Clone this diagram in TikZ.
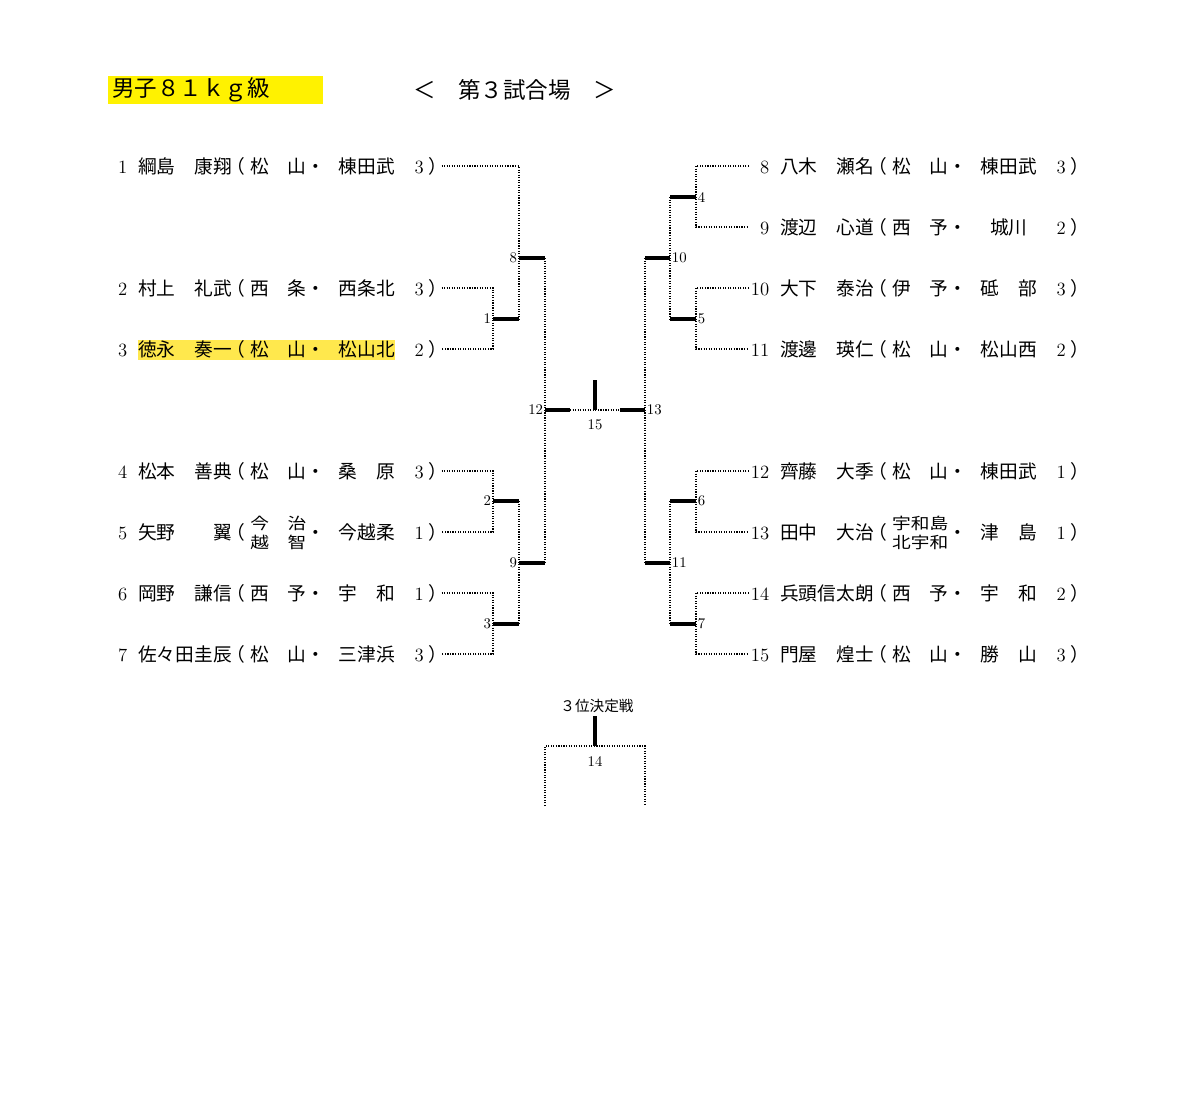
\documentclass[tikz,border=0pt]{standalone}
\usepackage{fontspec}
\usepackage{graphicx}
\newfontfamily\jp{Noto Sans CJK JP}
\definecolor{hlyellow}{HTML}{FFE84D}
\usepackage{tikz}
\usetikzlibrary{positioning}
\newlength{\px}
\setlength{\px}{0.025cm}
\NewDocumentCommand{\player}{mmmmm}{%
	\makebox[20\px][r]{#1}\hspace{11\px}%
	\makebox[94\px][l]{\jp #2}%
	\makebox[18\px][l]{\hspace{-6\px}\jp （}%
	\makebox[56\px]{\jp #3}%
	\makebox[19\px]{\jp ・}%
	\hspace{13\px}%
	\makebox[57\px]{\jp #4}%
	\hspace{15\px}%
	\makebox[18\px]{#5}%
	\makebox[13\px][l]{\jp ）}%
}
\NewDocumentCommand{\twoline}{mm}{%
	\smash{\scalebox{1}[0.85]{\begin{tabular}{@{}c@{}}#1\\#2\end{tabular}}}%
}
\tikzset{
	entry/.style={
			anchor=west,
			inner sep=0pt,
			font=\fontsize{13.3}{15}\selectfont
		},
	titlebox/.style={
			anchor=north west,
			fill=yellow,
			minimum width=5.375cm,
			minimum height=0.7cm,
			text width=5.175cm,
			align=left,
			inner xsep=0.1cm,
			inner ysep=0pt,
			font=\jp\fontsize{16}{18}\selectfont
		},
	headtext/.style={
			inner sep=0pt,
			font=\jp\fontsize{16}{18}\selectfont
		},
	smallhead/.style={
			inner sep=0pt,
			font=\jp\fontsize{10.4}{12}\selectfont
		},
	mno/.style={
			inner sep=1.2pt,
			font=\fontsize{10.5}{11}\selectfont
		},
	dotline/.style={
			densely dotted,
			line width=0.8pt
		},
	winline/.style={
			line width=3pt
		}
}
\begin{document}
\begin{tikzpicture}[x=0.025cm, y=-0.025cm]
\useasboundingbox (0,0) rectangle (1200,1092);

\node (title) at (108,76) [titlebox] {男子８１ｋｇ級};
\node (stage) at (413,90) [headtext, anchor=west] {＜　第３試合場　＞};

\fill[hlyellow] (138,340) rectangle (395,360);

\node (p1) at (107,166) [entry] {\player{1}{綱島　康翔}{松　山}{棟田武}{3}};
\node (p2) at (107,288) [entry] {\player{2}{村上　礼武}{西　条}{西条北}{3}};
\node (p3) at (107,349) [entry] {\player{3}{徳永　奏一}{松　山}{松山北}{2}};
\node (p4) at (107,471) [entry] {\player{4}{松本　善典}{松　山}{桑　原}{3}};
\node (p5) at (107,532) [entry] {\player{5}{矢野　　翼}{\twoline{\makebox[56\px][s]{今\hfill 治}}{\makebox[56\px][s]{越\hfill 智}}}{今越柔}{1}};
\node (p6) at (107,593) [entry] {\player{6}{岡野　謙信}{西　予}{宇　和}{1}};
\node (p7) at (107,654) [entry] {\player{7}{佐々田圭辰}{松　山}{三津浜}{3}};

\node (p8) at (749,166) [entry] {\player{8}{八木　瀬名}{松　山}{棟田武}{3}};
\node (p9) at (749,227) [entry] {\player{9}{渡辺　心道}{西　予}{城川}{2}};
\node (p10) at (749,288) [entry] {\player{10}{大下　泰治}{伊　予}{砥　部}{3}};
\node (p11) at (749,349) [entry] {\player{11}{渡邊　瑛仁}{松　山}{松山西}{2}};
\node (p12) at (749,471) [entry] {\player{12}{齊藤　大季}{松　山}{棟田武}{1}};
\node (p13) at (749,532) [entry] {\player{13}{田中　大治}{\twoline{宇和島}{北宇和}}{津　島}{1}};
\node (p14) at (749,593) [entry] {\player{14}{兵頭信太朗}{西　予}{宇　和}{2}};
\node (p15) at (749,654) [entry] {\player{15}{門屋　煌士}{松　山}{勝　山}{3}};

\coordinate (m1) at (493,319); \coordinate (w1) at (519,319);
\coordinate (m2) at (493,501); \coordinate (w2) at (519,501);
\coordinate (m3) at (493,624); \coordinate (w3) at (519,624);
\coordinate (m8) at (519,258); \coordinate (w8) at (545,258);
\coordinate (m9) at (519,563); \coordinate (w9) at (545,563);
\coordinate (m12) at (545,410); \coordinate (w12) at (570,410);
\coordinate (m4) at (696,197); \coordinate (w4) at (670,197);
\coordinate (m5) at (696,319); \coordinate (w5) at (670,319);
\coordinate (m6) at (696,501); \coordinate (w6) at (670,501);
\coordinate (m7) at (696,624); \coordinate (w7) at (670,624);
\coordinate (m10) at (670,258); \coordinate (w10) at (645,258);
\coordinate (m11) at (670,563); \coordinate (w11) at (645,563);
\coordinate (m13) at (645,410); \coordinate (w13) at (620,410);
\coordinate (m15) at (595,410); \coordinate (top15) at (595,380);

\draw[dotline] (p2.east) -| (m1) |- (p3.east);
\draw[dotline] (p4.east) -| (m2) |- (p5.east);
\draw[dotline] (p6.east) -| (m3) |- (p7.east);
\draw[dotline] (p1.east) -| (m8) -- (w1);
\draw[dotline] (w2) -- (m9) -- (w3);
\draw[dotline] (w8) -- (m12) -- (w9);
\draw[dotline] (p8.west) -| (m4) |- (p9.west);
\draw[dotline] (p10.west) -| (m5) |- (p11.west);
\draw[dotline] (p12.west) -| (m6) |- (p13.west);
\draw[dotline] (p14.west) -| (m7) |- (p15.west);
\draw[dotline] (w4) -- (m10) -- (w5);
\draw[dotline] (w6) -- (m11) -- (w7);
\draw[dotline] (w10) -- (m13) -- (w11);
\draw[dotline] (w12) -- (m15) -- (w13);

\draw[winline] (m1) -- (w1);
\draw[winline] (m2) -- (w2);
\draw[winline] (m3) -- (w3);
\draw[winline] (m8) -- (w8);
\draw[winline] (m9) -- (w9);
\draw[winline] (m12) -- (w12);
\draw[winline] (m4) -- (w4);
\draw[winline] (m5) -- (w5);
\draw[winline] (m6) -- (w6);
\draw[winline] (m7) -- (w7);
\draw[winline] (m10) -- (w10);
\draw[winline] (m11) -- (w11);
\draw[winline] (m13) -- (w13);
\draw[winline] (m15) -- (top15);

\node (t1) at (m1) [mno, anchor=east] {1};
\node (t2) at (m2) [mno, anchor=east] {2};
\node (t3) at (m3) [mno, anchor=east] {3};
\node (t8) at (m8) [mno, anchor=east] {8};
\node (t9) at (m9) [mno, anchor=east] {9};
\node (t12) at (m12) [mno, anchor=east] {12};
\node (t4) at (m4) [mno, anchor=west] {4};
\node (t5) at (m5) [mno, anchor=west] {5};
\node (t6) at (m6) [mno, anchor=west] {6};
\node (t7) at (m7) [mno, anchor=west] {7};
\node (t10) at (m10) [mno, anchor=west] {10};
\node (t11) at (m11) [mno, anchor=west] {11};
\node (t13) at (m13) [mno, anchor=west] {13};
\node (t15) at (595,425) [mno] {15};

\node (third) at (597,706) [smallhead] {３位決定戦};
\coordinate (m14) at (595,746); \coordinate (top14) at (595,716);
\coordinate (l14) at (545,806); \coordinate (r14) at (645,806);
\draw[dotline] (l14) |- (m14) -| (r14);
\draw[winline] (m14) -- (top14);
\node (t14) at (595,761) [mno] {14};

\end{tikzpicture}
\end{document}
